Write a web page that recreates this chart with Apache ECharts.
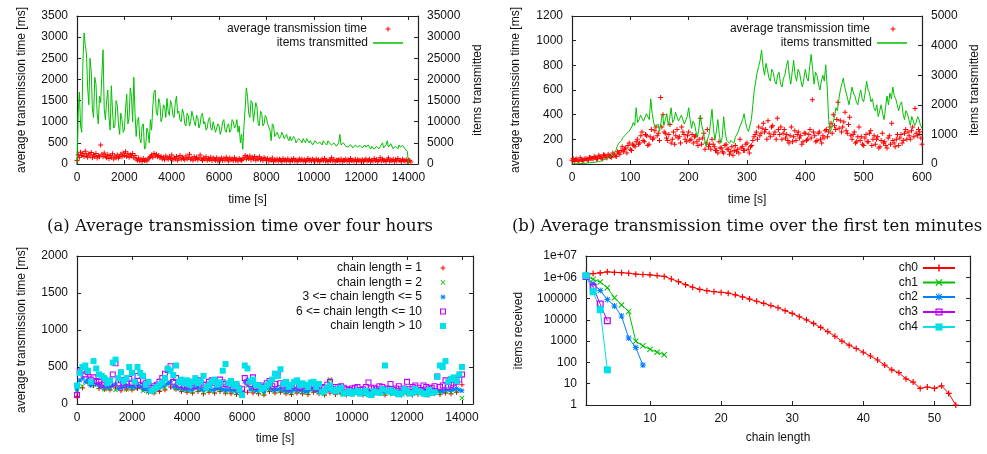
<!DOCTYPE html>
<html>
<head>
<meta charset="utf-8">
<script src="https://cdn.jsdelivr.net/npm/echarts@6/dist/echarts.min.js"></script>
<style>
html, body { margin: 0; padding: 0; background: #fff; }
#chart { width: 987px; height: 454px; }
</style>
</head>
<body>
<div id="chart"></div>
<script>
/* four gnuplot style panels: transmission times and chain lengths */

// (a) four hours, items sampled every 50 s, time sampled every 50 s
var STEP_A_ITEMS = 50;
var itemsA = [0, 12000, 17000, 9000, 7500, 24000, 31000, 28000, 26000, 18000,
	14000, 25000, 22000, 13000, 11000, 20500, 19000, 12000, 9500, 16000,
	14500, 21000, 27000, 13000, 10500, 15000, 17500, 11000, 8000, 18500,
	12500, 8500, 9000, 15000, 14000, 9500, 7000, 12000, 10500, 7500,
	8000, 13000, 16500, 9500, 11000, 18000, 16000, 10000, 20500, 12000,
	6500, 10500, 11000, 6000, 5000, 9000, 9500, 3500, 4000, 8500,
	7500, 5000, 10500, 8000, 13500, 17000, 17500, 12000, 11500, 15500,
	14500, 10000, 11000, 14000, 13500, 11000, 15500, 12500, 11500, 15000,
	14000, 11500, 11000, 14500, 16000, 12000, 12500, 10500, 10000, 13000,
	12000, 9500, 9000, 12000, 11500, 9000, 10000, 12500, 12500, 10000,
	9000, 11500, 11000, 8500, 9500, 11500, 12000, 9500, 10000, 8000,
	8500, 10500, 11000, 8500, 8000, 10000, 10000, 7500, 7500, 9500,
	9000, 7000, 8000, 10000, 10500, 8000, 7500, 9000, 9500, 7500,
	8000, 10500, 10000, 8500, 9000, 10500, 7500, 9000, 5000, 7000,
	3500, 9000, 13000, 18000, 16000, 12000, 11000, 15000, 14500, 10000,
	10000, 14500, 13500, 9500, 9000, 12500, 12000, 9000, 9500, 11500,
	11000, 9500, 9500, 8000, 5500, 9500, 9000, 6500, 6500, 7500,
	7500, 6000, 6500, 7500, 7000, 6000, 6500, 7000, 6000, 5500,
	6500, 5500, 5500, 6500, 6000, 5000, 5500, 6000, 6000, 5500,
	5000, 6000, 5500, 5000, 6000, 5500, 5000, 5500, 5500, 4500,
	5000, 5500, 5500, 4800, 4500, 5200, 5000, 4500, 5500, 5000,
	5000, 4500, 5500, 5000, 5000, 4500, 4500, 5000, 5000, 4200,
	4500, 5000, 7000, 4500, 4500, 5000, 5000, 4200, 4500, 4000,
	4000, 4600, 4500, 3800, 4000, 4500, 4500, 4000, 4000, 4400,
	4500, 3800, 4000, 4500, 4000, 3600, 4500, 4000, 3500, 4200,
	4000, 3500, 3500, 4200, 4000, 3600, 3500, 4500, 5000, 3800,
	4000, 4600, 5500, 4000, 4000, 4800, 4500, 3600, 3500, 4200,
	4000, 3600, 4500, 4000, 3800, 4400, 4200, 3600, 3500, 3000, 0];
var STEP_A_TIME = 50;
var avgTimeA = [80, 220, 160, 280, 200, 250, 180, 300, 210, 160, 240, 190, 270, 150, 220, 180, 250, 140, 200, 170, 450,
	230, 170, 260, 190, 150, 220, 130, 200, 160, 240, 120, 190, 150, 210, 140, 180, 230, 170, 260, 200, 290, 180, 240, 160, 220, 190, 250, 150, 200, 120,
	90, 140, 70, 110, 60, 130, 80, 100, 70, 120,
	140, 180, 210, 160, 250, 190, 230, 170, 200, 150,
	180, 120, 160, 100, 190, 140, 110, 170, 130, 210, 100, 150, 120, 180, 90, 140, 200, 110, 160, 130, 100, 190, 120, 150, 230, 110, 140, 90, 170, 120,
	160, 100, 140, 210, 120, 80, 150, 110, 170, 90, 130, 100, 160, 80, 140, 110, 90, 150, 70, 120,
	100, 140, 80, 130, 90, 160, 110, 70, 140, 100, 120, 80, 150, 90, 110, 70, 130, 100, 80, 120,
	150, 200, 110, 170, 130, 190, 100, 160, 120, 180, 90, 140, 110, 170, 100, 130, 80, 150, 120, 90,
	130, 70, 110, 90, 140, 60, 100, 80, 120, 70, 110, 90, 60, 130, 80, 100, 70, 120, 90, 60,
	110, 80, 130, 70, 100, 60, 90, 120, 80, 110, 70, 100, 60, 90, 130, 80, 100, 70, 110, 90,
	80, 120, 70, 100, 60, 90, 110, 80, 130, 70, 90, 60, 100, 80, 150, 70, 110, 60, 90, 80,
	100, 70, 120, 60, 90, 80, 110, 70, 100, 60, 130, 80, 90, 70, 110, 60, 100, 80, 90, 70,
	100, 60, 90, 120, 70, 80, 110, 60, 90, 70, 130, 80, 100, 60, 90, 150, 70, 110, 80, 90, 60,
	100, 140, 70, 90, 80, 110, 60, 100, 70, 130, 80, 90, 60, 110, 80, 70, 100, 60, 90, 80, 50];

// (b) first ten minutes
var STEP_B_ITEMS = 2.5;
var itemsB = [0, 0, 5, 8, 10, 12, 15, 18, 20, 25,
	30, 35, 40, 45, 50, 55, 60, 70, 80, 90,
	100, 130, 150, 180, 200, 230, 250, 280, 300, 380,
	450, 600, 700, 750, 800, 900, 900, 1000, 1000, 1100,
	1100, 1250, 1400, 1300, 1900, 1400, 1500, 1650, 1550, 1450,
	1500, 1700, 1650, 1500, 2200, 1700, 1400, 1250, 1200, 1350,
	1100, 1400, 1700, 1300, 1500, 1700, 1300, 1550, 1900, 1400,
	1500, 1750, 1800, 1450, 1400, 1650, 1600, 1350, 1300, 1600,
	1900, 1500, 1200, 1450, 1350, 1100, 900, 1200, 1650, 1300,
	1100, 800, 600, 850, 1000, 1400, 1850, 1200, 800, 1100,
	1500, 1000, 700, 900, 1600, 1100, 800, 850, 700, 800,
	750, 700, 900, 1000, 1100, 1250, 1300, 1500, 1700, 1400,
	1200, 1100, 1050, 1500, 2000, 2500, 2800, 3100, 3300, 3500,
	3850, 3300, 3000, 3400, 3200, 2900, 2800, 3200, 3100, 2800,
	2700, 3000, 3100, 2700, 2600, 2900, 3000, 3300, 3500, 3000,
	2700, 3100, 3500, 3000, 2800, 3200, 3100, 2800, 2600, 2900,
	3200, 2900, 2800, 3300, 3700, 3200, 2700, 3100, 3000, 2700,
	2500, 2800, 3000, 2800, 3350, 2600, 1500, 1100, 1200, 1400,
	1600, 1900, 1800, 2200, 2500, 2700, 2900, 2600, 2400, 2200,
	2000, 2300, 2600, 2400, 2300, 2100, 2000, 2300, 2500, 2200,
	2100, 2400, 2800, 2500, 2400, 2100, 2200, 1900, 1800, 2000,
	1600, 1800, 2000, 1700, 1500, 1900, 2300, 2000, 2400, 2200,
	2600, 2300, 2200, 2000, 1800, 2000, 2100, 1700, 1500, 1800,
	1700, 1500, 1300, 1600, 1600, 1300, 1400, 1600, 1500, 1300, 1200];
var STEP_B_TIME = 2;
var avgTimeB = [30, 45, 20, 35, 40, 25, 25, 50, 35, 30, 30, 40, 45, 35, 30, 55, 50, 45, 40, 60,
	55, 40, 45, 70, 60, 50, 40, 75, 70, 55, 50, 80, 65, 60, 55, 90, 80, 65, 60, 100,
	90, 80, 110, 140, 100, 120, 130, 90, 150, 170, 120, 110, 160, 150, 140, 180, 200, 160, 170, 230,
	260, 190, 180, 240, 230, 150, 160, 220, 280, 200, 210, 270, 300, 230, 250, 190, 540, 300, 400, 260,
	250, 210, 190, 240, 320, 170, 200, 260, 160, 230, 280, 210, 220, 170, 300, 260, 240, 200, 180, 230,
	260, 190, 200, 240, 170, 220, 230, 180, 150, 200, 370, 160, 210, 250, 120, 170, 280, 140, 160, 120,
	200, 160, 140, 110, 110, 90, 180, 130, 130, 100, 90, 150, 160, 120, 120, 80, 100, 140, 70, 110,
	150, 100, 120, 90, 200, 130, 140, 110, 110, 160, 170, 120, 90, 140, 150, 190, 220, 240, 260, 200,
	300, 230, 250, 290, 330, 260, 280, 200, 350, 250, 220, 300, 310, 240, 260, 200, 370, 280, 240, 300,
	200, 250, 280, 210, 240, 190, 170, 230, 300, 180, 220, 270, 190, 240, 260, 210, 230, 160, 180, 250,
	250, 190, 200, 240, 280, 210, 520, 260, 230, 180, 190, 250, 260, 200, 170, 230, 210, 270, 280, 220,
	260, 300, 330, 250, 400, 310, 280, 360, 500, 290, 350, 260, 300, 340, 420, 270, 250, 320, 380, 230,
	200, 240, 260, 170, 180, 220, 300, 190, 220, 160, 150, 210, 240, 180, 180, 250, 270, 150, 200, 230,
	160, 200, 220, 130, 140, 190, 250, 170, 180, 150, 130, 210, 230, 160, 330, 190, 170, 140, 200, 240,
	150, 210, 240, 170, 190, 250, 280, 200, 260, 230, 200, 270, 300, 220, 450, 250, 230, 280, 260, 210, 160];

// (c) average time per chain length group, every 200 s (second lists start at 100 s)
var STEP_C = 200;
var chainLen1 = [100, 220, 280, 250, 210, 200, 190, 230, 180, 200,
	190, 210, 200, 160, 150, 170, 190, 230, 200, 170,
	160, 150, 170, 140, 160, 150, 170, 150, 140, 130,
	120, 160, 150, 140, 120, 170, 150, 160, 140, 130,
	150, 140, 130, 160, 140, 120, 150, 130, 140, 120,
	130, 150, 120, 140, 130, 150, 120, 140, 130, 120,
	140, 120, 130, 150, 120, 140, 130, 150, 140, 160, 260];
var chainLen2 = [180, 240, 300, 260, 230, 200, 210, 190, 220, 200,
	210, 230, 180, 170, 160, 200, 220, 280, 210, 190,
	180, 170, 190, 160, 180, 170, 190, 160, 170, 150,
	140, 250, 180, 160, 140, 190, 170, 180, 160, 150,
	170, 160, 150, 180, 160, 140, 330, 150, 160, 140,
	150, 170, 140, 160, 150, 170, 140, 160, 150, 140,
	160, 140, 150, 170, 140, 160, 150, 170, 160, 180, 80];
var chainLen3to5 = [200, 350, 330, 300, 260, 240, 230, 270, 220, 250,
	240, 260, 210, 200, 190, 230, 260, 300, 250, 220,
	210, 200, 230, 190, 210, 200, 220, 190, 200, 180,
	160, 330, 220, 190, 170, 230, 200, 210, 190, 180,
	200, 190, 180, 210, 190, 170, 200, 180, 190, 170,
	180, 200, 170, 190, 180, 200, 170, 190, 180, 170,
	190, 170, 180, 200, 170, 190, 180, 200, 190, 210, 180];
var chainLen3to5Mid = [320, 300, 250, 270, 230, 220, 250, 210, 240, 230,
	220, 240, 200, 180, 210, 240, 280, 230, 210, 200,
	190, 220, 200, 210, 190, 210, 200, 190, 180, 170,
	300, 200, 180, 190, 210, 190, 200, 180, 170, 190,
	180, 170, 200, 180, 160, 190, 170, 180, 160, 170,
	190, 160, 180, 170, 190, 170, 180, 160, 170, 180,
	160, 190, 170, 180, 200, 180, 170, 190, 200, 190];
var chainLen6to10 = [120, 450, 430, 360, 300, 280, 270, 550, 320, 300,
	280, 380, 310, 260, 240, 300, 410, 510, 350, 300,
	250, 280, 320, 260, 300, 280, 330, 270, 300, 250,
	200, 290, 360, 250, 230, 310, 270, 280, 260, 240,
	250, 240, 230, 260, 250, 220, 300, 230, 240, 200,
	210, 230, 200, 290, 220, 240, 200, 270, 210, 200,
	300, 230, 220, 250, 210, 240, 230, 320, 260, 300, 400];
var chainLen6to10Mid = [440, 400, 330, 310, 260, 300, 400, 280, 250, 340,
	300, 260, 280, 220, 260, 350, 460, 300, 260, 240,
	300, 240, 280, 260, 320, 250, 290, 260, 230, 210,
	350, 270, 230, 250, 280, 240, 400, 250, 220, 260,
	220, 250, 240, 210, 230, 260, 200, 230, 220, 190,
	220, 190, 230, 210, 200, 230, 210, 190, 240, 210,
	200, 250, 190, 230, 220, 370, 250, 230, 280, 330];
var chainLenOver10 = [250, 500, 450, 580, 400, 350, 320, 600, 430, 350,
	420, 500, 380, 300, 200, 260, 350, 450, 520, 330,
	320, 300, 280, 380, 250, 330, 290, 540, 310, 270,
	120, 480, 330, 250, 220, 280, 410, 470, 300, 260,
	320, 280, 230, 300, 270, 180, 250, 170, 220, 150,
	140, 180, 160, 130, 170, 150, 520, 190, 160, 140,
	180, 150, 170, 140, 190, 160, 520, 580, 340, 310, 500];
var chainLenOver10Mid = [420, 520, 300, 480, 380, 280, 560, 350, 310, 500,
	300, 420, 260, 180, 230, 290, 480, 390, 300, 280,
	260, 350, 300, 220, 300, 260, 450, 280, 240, 200,
	520, 300, 260, 200, 250, 330, 380, 270, 230, 300,
	250, 260, 290, 230, 160, 220, 190, 200, 140, 170,
	160, 140, 180, 120, 160, 200, 170, 150, 130, 200,
	140, 200, 160, 130, 150, 370, 500, 300, 360, 400];

// (d) items received per chain length, chain length starts at 1
var ch0 = [1380000, 1500000, 1600000, 1800000, 1700000, 1650000, 1550000, 1400000, 1350000, 1300000,
	1200000, 1100000, 830000, 620000, 450000, 340000, 270000, 235000, 210000, 195000,
	180000, 150000, 120000, 95000, 75000, 60000, 47000, 37000, 27000, 20000,
	14000, 10000, 6800, 4400, 2800, 1700, 1000, 650, 450, 300,
	200, 130, 75, 45, 33, 17, 12, 6, 7, 6, 8, 3.5, 1];
var ch1 = [1100000, 800000, 600000, 320000, 110000, 50000, 25000, 1000, 600, 420, 300, 230];
var ch2 = [1100000, 500000, 240000, 90000, 45000, 15000, 1400, 500, 75];
var ch3 = [1100000, 350000, 55000, 9000];
var ch4 = [1200000, 210000, 30000, 45];

var longTimeTicks = [0, 2000, 4000, 6000, 8000, 10000, 12000, 14000];
var shortTimeTicks = [0, 100, 200, 300, 400, 500, 600];
var chainTicks = [10, 20, 30, 40, 50];
var logTicks = [1, 10, 100, 1000, 10000, 100000, 1000000, 10000000];

var FONT = 'Liberation Sans';
var TEXT = '#111';
var FRAME = '#222';
var RED = '#ff0000', GREEN = '#00c000', BLUE = '#0080ff', PURPLE = '#c000ff', CYAN = '#00e0e8';

var PLUS = 'path://M0,4H10V6H0Z M4,0H6V10H4Z';
var CROSS = 'path://M1.2,0L10,8.8L8.8,10L0,1.2Z M8.8,0L10,1.2L1.2,10L0,8.8Z';
var STAR = 'path://M0,4.2H10V5.8H0Z M4.2,0H5.8V10H4.2Z M1.5,0.4L9.6,8.5L8.5,9.6L0.4,1.5Z M8.5,0.4L9.6,1.5L1.5,9.6L0.4,8.5Z';
var OPEN_SQUARE = 'path://M0,0H10V10H0Z M1.8,1.8V8.2H8.2V1.8Z';
var SQUARE = 'path://M0,0H10V10H0Z';

function pairs(start, step, values) {
	return values.map(function(v, i) { return [start + i * step, v]; });
}

function textStyle() {
	return { fontFamily: FONT, fontSize: 12, color: TEXT };
}

function plainNumber(v) {
	return String(v);
}

function frameLine() {
	return { show: true, onZero: false, lineStyle: { color: FRAME, width: 1.2 } };
}

function xAxisFor(grid, min, max, ticks, name, gap, top) {
	return {
		type: 'value', gridIndex: grid, position: top ? 'top' : 'bottom', min: min, max: max,
		name: top ? '' : name, nameLocation: 'middle', nameGap: gap, nameTextStyle: textStyle(),
		axisLine: frameLine(),
		axisTick: { show: true, inside: true, length: 4, customValues: ticks, lineStyle: { color: FRAME } },
		axisLabel: Object.assign({ show: !top, margin: 8, customValues: ticks, formatter: plainNumber }, textStyle()),
		splitLine: { show: false }
	};
}

function yAxisFor(grid, min, max, interval, name, gap, right, showLabels) {
	return {
		type: 'value', gridIndex: grid, position: right ? 'right' : 'left', min: min, max: max, interval: interval,
		name: name, nameLocation: 'middle', nameGap: gap, nameRotate: 90, nameTextStyle: textStyle(),
		axisLine: frameLine(),
		axisTick: { show: true, inside: true, length: 4, lineStyle: { color: FRAME } },
		axisLabel: Object.assign({ show: showLabels, margin: 9, formatter: plainNumber }, textStyle()),
		splitLine: { show: false }
	};
}

function logAxisFor(grid, name, gap, right) {
	return {
		type: 'log', logBase: 10, gridIndex: grid, position: right ? 'right' : 'left', min: 1, max: 10000000,
		name: name, nameLocation: 'middle', nameGap: gap, nameRotate: 90, nameTextStyle: textStyle(),
		axisLine: frameLine(),
		axisTick: { show: true, inside: true, length: 4, customValues: logTicks, lineStyle: { color: FRAME } },
		axisLabel: Object.assign({
			show: !right, margin: 9, customValues: logTicks,
			formatter: function(v) {
				if (v >= 1000000) {
					return '1e+0' + Math.round(Math.log10(v));
				}
				return String(Math.round(v));
			}
		}, textStyle()),
		splitLine: { show: false }
	};
}

// legend entry with a line sample (icon spans the full item width)
function legendLine(name, right, centerY, iconWidth, iconHeight, icon) {
	var entry = icon ? { name: name, icon: icon } : name;
	return {
		data: [entry], orient: 'vertical', align: 'right', right: right, top: centerY - 7,
		padding: 0, itemWidth: iconWidth, itemHeight: iconHeight, selectedMode: false,
		textStyle: textStyle()
	};
}

// legend entry with only a point; the box is sized so the text ends at textEnd
function legendPoint(name, textEnd, centerX, centerY, size) {
	return {
		data: [name], orient: 'vertical', align: 'right', right: 987 - centerX - size / 2, top: centerY - 7,
		padding: 0, itemWidth: 2 * (centerX - textEnd - 5), itemHeight: size, selectedMode: false,
		textStyle: textStyle()
	};
}

function scatter(name, x, y, data, symbol, size, color) {
	return {
		name: name, type: 'scatter', xAxisIndex: x, yAxisIndex: y, data: data,
		symbol: symbol, symbolSize: size, itemStyle: { color: color, opacity: 1 },
		silent: true, clip: true
	};
}

function itemsLine(x, y, data) {
	return {
		name: 'items transmitted', type: 'line', xAxisIndex: x, yAxisIndex: y,
		data: data, symbol: 'none',
		lineStyle: { color: GREEN, width: 1 }, itemStyle: { color: GREEN }, silent: true
	};
}

function chainLine(name, data, symbol, size, color) {
	return {
		name: name, type: 'line', xAxisIndex: 6, yAxisIndex: 6, data: data,
		symbol: symbol, symbolSize: size, showSymbol: true,
		lineStyle: { color: color, width: 1 }, itemStyle: { color: color },
		silent: true
	};
}

var grids = [
	{ left: 77, top: 16, width: 341, height: 148 },
	{ left: 572, top: 16, width: 350, height: 148 },
	{ left: 77, top: 256, width: 396, height: 148 },
	{ left: 586, top: 256, width: 384, height: 149 }
].map(function(g) { g.outerBoundsMode = 'none'; g.containLabel = false; return g; });

var captionFont = '16.5px "DejaVu Serif"';

var option = {
	animation: false,
	backgroundColor: '#fff',
	grid: grids,
	xAxis: [
		xAxisFor(0, 0, 14400, longTimeTicks, 'time [s]', 30, false),
		xAxisFor(0, 0, 14400, longTimeTicks, '', 0, true),
		xAxisFor(1, 0, 600, shortTimeTicks, 'time [s]', 30, false),
		xAxisFor(1, 0, 600, shortTimeTicks, '', 0, true),
		xAxisFor(2, 0, 14400, longTimeTicks, 'time [s]', 29, false),
		xAxisFor(2, 0, 14400, longTimeTicks, '', 0, true),
		xAxisFor(3, 1, 55, chainTicks, 'chain length', 27, false),
		xAxisFor(3, 1, 55, chainTicks, '', 0, true)
	],
	yAxis: [
		yAxisFor(0, 0, 3500, 500, 'average transmission time [ms]', 49, false, true),
		yAxisFor(0, 0, 35000, 5000, 'items transmitted', 54, true, true),
		yAxisFor(1, 0, 1200, 200, 'average transmission time [ms]', 50, false, true),
		yAxisFor(1, 0, 5000, 1000, 'items transmitted', 47, true, true),
		yAxisFor(2, 0, 2000, 500, 'average transmission time [ms]', 49, false, true),
		yAxisFor(2, 0, 2000, 500, '', 0, true, false),
		logAxisFor(3, 'items received', 61, false),
		logAxisFor(3, '', 0, true)
	],
	legend: [
		legendPoint('average transmission time', 367, 388, 30, 5),
		legendLine('items transmitted', 584, 44, 30, 1.5, 'rect'),
		legendPoint('average transmission time', 870, 893, 30, 5),
		legendLine('items transmitted', 80, 44, 30, 1.5, 'rect'),
		legendPoint('chain length = 1', 422, 443, 269, 5),
		legendPoint('chain length = 2', 422, 443, 283.5, 5),
		legendPoint('3 <= chain length <= 5', 422, 443, 298, 5),
		legendPoint('6 <= chain length <= 10', 422, 443, 312.5, 6),
		legendPoint('chain length > 10', 422, 443, 327, 6),
		legendLine('ch0', 31, 269, 32, 9),
		legendLine('ch1', 31, 283.5, 32, 9),
		legendLine('ch2', 31, 298, 32, 9),
		legendLine('ch3', 31, 313, 32, 9),
		legendLine('ch4', 31, 328, 32, 9)
	],
	series: [
		scatter('average transmission time', 0, 0, pairs(0, STEP_A_TIME, avgTimeA), PLUS, 5, RED),
		itemsLine(0, 1, pairs(0, STEP_A_ITEMS, itemsA)),
		scatter('average transmission time', 2, 2, pairs(0, STEP_B_TIME, avgTimeB), PLUS, 5, RED),
		itemsLine(2, 3, pairs(0, STEP_B_ITEMS, itemsB)),
		scatter('chain length = 1', 4, 4, pairs(0, STEP_C, chainLen1), PLUS, 5, RED),
		scatter('chain length = 2', 4, 4, pairs(0, STEP_C, chainLen2), CROSS, 5, GREEN),
		scatter('3 <= chain length <= 5', 4, 4,
			pairs(0, STEP_C, chainLen3to5).concat(pairs(STEP_C / 2, STEP_C, chainLen3to5Mid)), STAR, 5, BLUE),
		scatter('6 <= chain length <= 10', 4, 4,
			pairs(0, STEP_C, chainLen6to10).concat(pairs(STEP_C / 2, STEP_C, chainLen6to10Mid)), OPEN_SQUARE, 6, PURPLE),
		scatter('chain length > 10', 4, 4,
			pairs(0, STEP_C, chainLenOver10).concat(pairs(STEP_C / 2, STEP_C, chainLenOver10Mid)), SQUARE, 6, CYAN),
		chainLine('ch0', pairs(1, 1, ch0), PLUS, 6, RED),
		chainLine('ch1', pairs(1, 1, ch1), CROSS, 6, GREEN),
		chainLine('ch2', pairs(1, 1, ch2), STAR, 6, BLUE),
		chainLine('ch3', pairs(1, 1, ch3), OPEN_SQUARE, 7, PURPLE),
		chainLine('ch4', pairs(1, 1, ch4), SQUARE, 7, CYAN)
	],
	graphic: [
		{ type: 'text', x: 240, y: 227, style: { text: '(a) Average transmission time over four hours', font: captionFont, fill: '#111', align: 'center', verticalAlign: 'middle', textAlign: 'center', textVerticalAlign: 'middle' } },
		{ type: 'text', x: 747, y: 227, style: { text: '(b) Average transmission time over the first ten minutes', font: captionFont, fill: '#111', align: 'center', verticalAlign: 'middle', textAlign: 'center', textVerticalAlign: 'middle' } }
	]
};

var chart = echarts.init(document.getElementById('chart'), null, { renderer: 'canvas' });
chart.setOption(option);
</script>
</body>
</html>
